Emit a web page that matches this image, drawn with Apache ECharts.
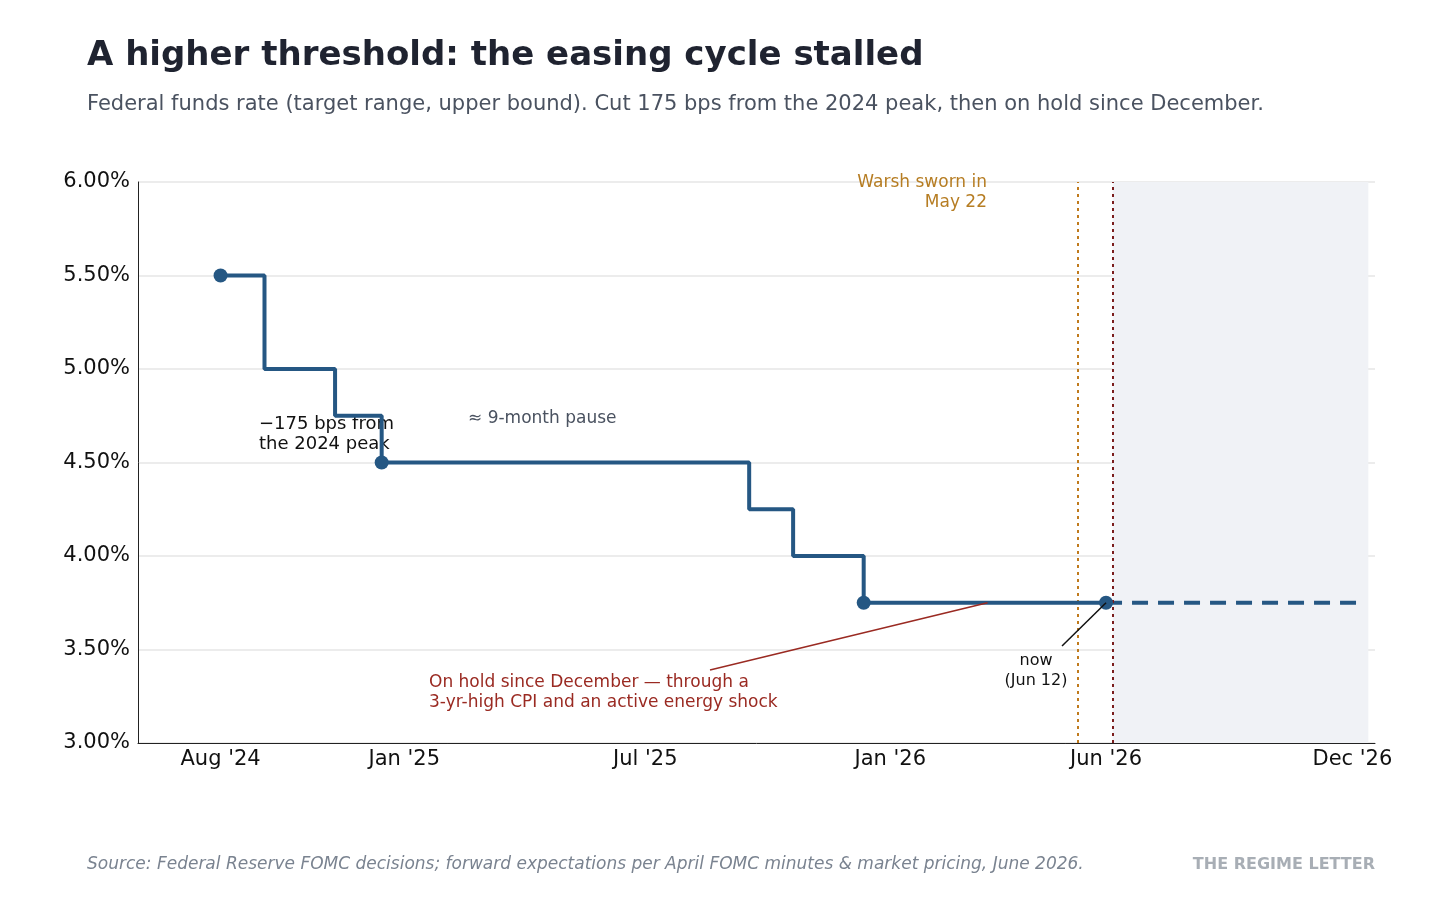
<!DOCTYPE html>
<html><head><meta charset="utf-8">
<script src="https://cdn.jsdelivr.net/npm/echarts@6/dist/echarts.min.js"></script>
<style>html,body{margin:0;background:#fff}#c{width:1456px;height:907px}</style>
</head><body><div id="c"></div>
<script>
const rateDates = ['2024-08-16','2024-09-18','2024-11-10','2024-12-15','2025-09-17','2025-10-20','2025-12-12','2026-06-12'];
const rateValues = [5.50, 5.00, 4.75, 4.50, 4.25, 4.00, 3.75, 3.75];
const markedDates = ['2024-08-16','2024-12-15','2025-12-12','2026-06-12'];
const forwardDates = ['2026-06-12','2026-12-20'];
const forwardValues = [3.75, 3.75];
const tickDates = ['2024-08-16','2025-01-01','2025-07-01','2026-01-01','2026-06-12','2026-12-14'];
const tickLabels = ["Aug '24","Jan '25","Jul '25","Jan '26","Jun '26","Dec '26"];
const warshDate = '2026-05-22', fomcDate = '2026-06-17', shadeEnd = '2026-12-26';

const t = d => new Date(d + 'T00:00:00Z').getTime();
const chart = echarts.init(document.getElementById('c'));
const font = 'DejaVu Sans';
chart.setOption({
  animation:false,
  textStyle:{fontFamily:font},
  grid:{left:138, right:81, top:182, bottom:164},
  xAxis:{type:'value', min:t('2024-06-15'), max:t('2026-12-31'),
    axisLine:{show:true, lineStyle:{color:'#222'}}, axisTick:{show:false}, splitLine:{show:false},
    axisLabel:{show:false}},
  yAxis:{type:'value', min:3, max:6, interval:0.5,
    axisLine:{show:true, lineStyle:{color:'#222'}}, axisTick:{show:false},
    splitLine:{lineStyle:{color:'#e6e6e6', width:1.5}},
    axisLabel:{formatter:v=>v.toFixed(2)+'%', color:'#111', fontSize:21, margin:8}},
  series:[
    {type:'line', step:'end', data:rateDates.map((d,i)=>({value:[t(d),rateValues[i]], symbol: markedDates.includes(d)?'circle':'none'})),
     lineStyle:{color:'#255783', width:4}, itemStyle:{color:'#255783'}, symbolSize:14, z:5,
     markLine:{silent:true, symbol:'none', label:{show:false},
       data:[{xAxis:t(warshDate), lineStyle:{color:'#c07a1c', type:[3,4], width:2}},
             {xAxis:t(fomcDate), lineStyle:{color:'#7a1d1d', type:[3,4], width:2}}]},
     markArea:{silent:true, itemStyle:{color:'#f0f2f6'}, data:[[{xAxis:t(fomcDate)},{xAxis:t(shadeEnd)}]]}},
    {type:'line', data:forwardDates.map((d,i)=>[t(d),forwardValues[i]]), symbol:'none',
     lineStyle:{color:'#255783', width:4, type:[16,10]}, z:4}
  ]
});
const P = (d,v)=>chart.convertToPixel({gridIndex:0},[t(d),v]);
const a1 = P('2026-03-15',3.75);
const n1 = P('2026-06-12',3.75);
const tx = (x,y,text,o={})=>({type:'text', x, y,
  style:{text, fill:o.color||'#111', fontSize:o.size||18, fontFamily:font, fontWeight:o.weight||'normal', fontStyle:o.style||'normal', lineHeight:o.lh||20, align:o.align||'left', verticalAlign:'top'}});
const ticks = tickDates.map((d,i)=>tx(P(d,3)[0], 748, tickLabels[i], {size:21, align:'center', lh:24}));
chart.setOption({graphic:[
  ...ticks,
  tx(87,36,'A higher threshold: the easing cycle stalled',{size:34,weight:'bold',color:'#1f2330',lh:40}),
  tx(87,92,'Federal funds rate (target range, upper bound). Cut 175 bps from the 2024 peak, then on hold since December.',{size:21,color:'#4a5260',lh:26}),
  tx(259,414,'\u2212175 bps from\nthe 2024 peak',{size:18}),
  tx(468,409,'\u2248 9-month pause',{size:17,color:'#4a5260'}),
  tx(987,173,'Warsh sworn in\nMay 22',{size:17,color:'#b67d23',align:'right'}),
  tx(1157,246,'Jun 16\u201317:\nfirst Warsh FOMC\n(upcoming)',{size:17,color:'#9a2a22'}),
  tx(1235,415,'No near-term rescue priced;\nnext move contested\n(delayed cut vs. hike risk)',{size:17,color:'#4a5260',align:'center'}),
  tx(429,673,'On hold since December \u2014 through a\n3-yr-high CPI and an active energy shock',{size:17,color:'#9a2a22'}),
  tx(1036,651,'now\n(Jun 12)',{size:16,align:'center'}),
  {type:'line', shape:{x1:a1[0],y1:a1[1],x2:710,y2:670}, style:{stroke:'#9a2a22', lineWidth:1.5}, z:10},
  {type:'line', shape:{x1:n1[0],y1:n1[1],x2:1062,y2:646}, style:{stroke:'#111', lineWidth:1.5}, z:10},
  tx(87,855,'Source: Federal Reserve FOMC decisions; forward expectations per April FOMC minutes & market pricing, June 2026.',{size:17,style:'italic',color:'#7a8390'}),
  tx(1375,855,'THE REGIME LETTER',{size:16,weight:'bold',color:'#a8aeb5',align:'right'})
]});
</script></body></html>
